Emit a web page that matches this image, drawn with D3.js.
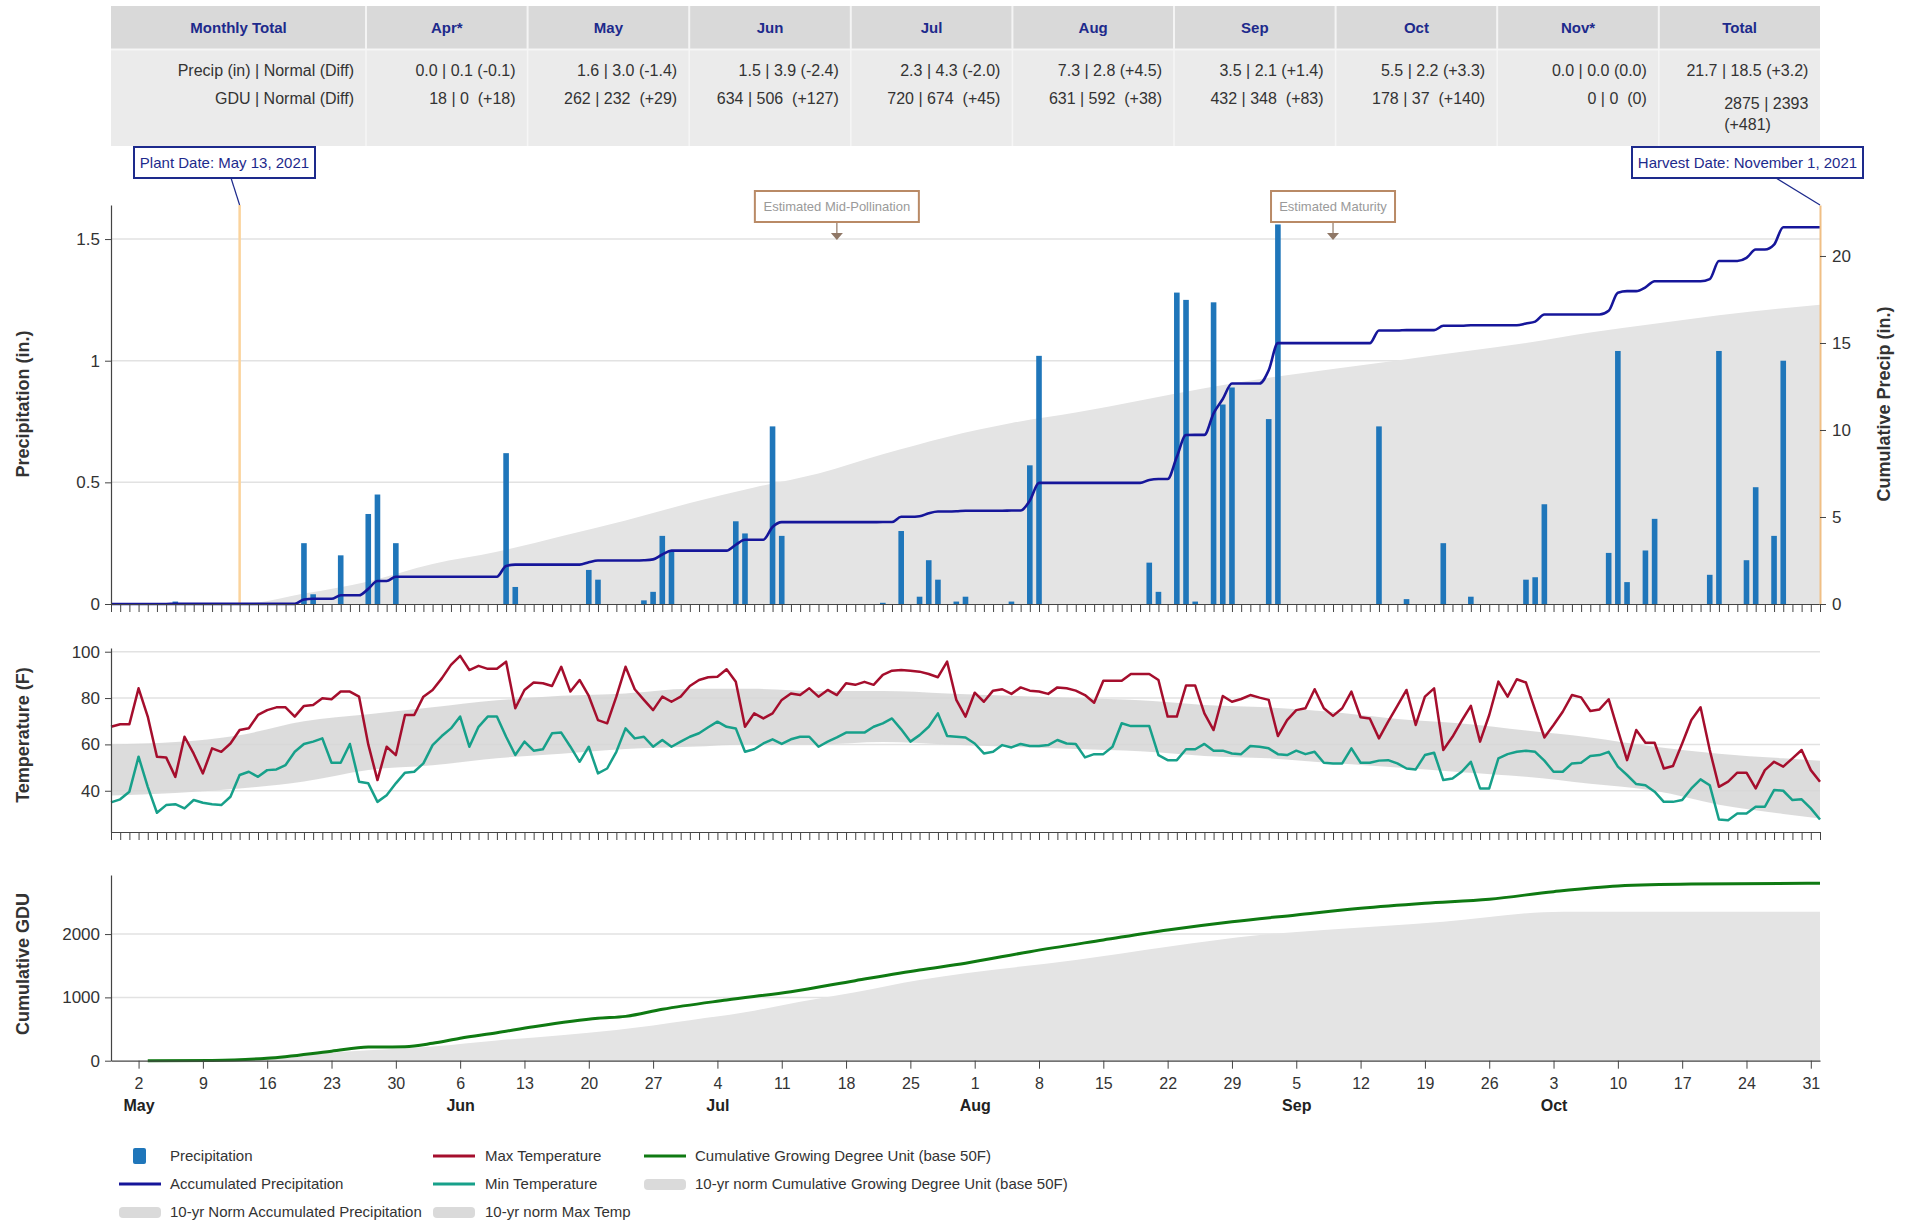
<!DOCTYPE html>
<html>
<head>
<meta charset="utf-8">
<script src="https://cdn.jsdelivr.net/npm/d3@7"></script>
<style>
body { margin: 0; background: #fff; }
svg { display: block; font-family: "Liberation Sans", Arial, sans-serif; }
</style>
</head>
<body>
<div id="chart"></div>
<script>
// table
var tableCols = ["Monthly Total", "Apr*", "May", "Jun", "Jul", "Aug", "Sep", "Oct", "Nov*", "Total"];
var precipRow = ["Precip (in) | Normal (Diff)", "0.0 | 0.1 (-0.1)", "1.6 | 3.0 (-1.4)", "1.5 | 3.9 (-2.4)", "2.3 | 4.3 (-2.0)",
  "7.3 | 2.8 (+4.5)", "3.5 | 2.1 (+1.4)", "5.5 | 2.2 (+3.3)", "0.0 | 0.0 (0.0)", "21.7 | 18.5 (+3.2)"];
var gduRow = ["GDU | Normal (Diff)", "18 | 0  (+18)", "262 | 232  (+29)", "634 | 506  (+127)", "720 | 674  (+45)",
  "631 | 592  (+38)", "432 | 348  (+83)", "178 | 37  (+140)", "0 | 0  (0)", "2875 | 2393  (+481)"];

// daily rain (only days with rain)
var rainDates = ["2021-05-06", "2021-05-20", "2021-05-21", "2021-05-24", "2021-05-27", "2021-05-28", "2021-05-30",
  "2021-06-11", "2021-06-12", "2021-06-20", "2021-06-21", "2021-06-26", "2021-06-27", "2021-06-28", "2021-06-29",
  "2021-07-06", "2021-07-07", "2021-07-10", "2021-07-11", "2021-07-22", "2021-07-24", "2021-07-26", "2021-07-27",
  "2021-07-28", "2021-07-30", "2021-07-31",
  "2021-08-05", "2021-08-07", "2021-08-08", "2021-08-20", "2021-08-21", "2021-08-23", "2021-08-24", "2021-08-25",
  "2021-08-27", "2021-08-28", "2021-08-29",
  "2021-09-02", "2021-09-03", "2021-09-14", "2021-09-17", "2021-09-21", "2021-09-24", "2021-09-30",
  "2021-10-01", "2021-10-02", "2021-10-09", "2021-10-10", "2021-10-11", "2021-10-13", "2021-10-14", "2021-10-20",
  "2021-10-21", "2021-10-24", "2021-10-25", "2021-10-27", "2021-10-28"];
var rainInches = [0.01, 0.25, 0.04, 0.2, 0.37, 0.45, 0.25,
  0.62, 0.07, 0.14, 0.1, 0.015, 0.05, 0.28, 0.22,
  0.34, 0.29, 0.73, 0.28, 0.005, 0.3, 0.03, 0.18,
  0.1, 0.01, 0.03,
  0.01, 0.57, 1.02, 0.17, 0.05, 1.28, 1.25, 0.01,
  1.24, 0.82, 0.89,
  0.76, 1.56, 0.73, 0.02, 0.25, 0.03, 0.1,
  0.11, 0.41, 0.21, 1.04, 0.09, 0.22, 0.35, 0.12,
  1.04, 0.18, 0.48, 0.28, 1.0];

var normPrecipDates = ["2021-04-29", "2021-05-13", "2021-05-20", "2021-05-27", "2021-06-03", "2021-06-10", "2021-06-17",
  "2021-06-24", "2021-07-01", "2021-07-08", "2021-07-15", "2021-07-22", "2021-07-29", "2021-08-05", "2021-08-12",
  "2021-08-19", "2021-08-26", "2021-09-02", "2021-09-09", "2021-09-16", "2021-09-23", "2021-09-30", "2021-10-07",
  "2021-10-14", "2021-10-21", "2021-10-28", "2021-11-01"];
var normPrecipCum = [0, 0, 0.6, 1.3, 2.3, 3.0, 3.9, 4.8, 5.8, 6.7, 7.5, 8.6, 9.6, 10.4, 11.0,
  11.7, 12.4, 13.0, 13.5, 14.0, 14.5, 15.0, 15.6, 16.1, 16.6, 17.0, 17.2];

// daily temps, Apr 29 .. Nov 1
var maxTemp = [67.6, 68.7, 68.7,
  84.2, 72, 54.7, 54.4, 46, 63.3, 56, 47.5, 58.3, 56.8, 60.4, 66.2, 67, 72.7, 74.8, 76, 76, 72, 76.6, 77, 79.9, 79.5,
  82.8, 82.8, 80.6, 60, 44.6, 59, 55.4, 72.7,
  72.7, 80.6, 83.5, 88.5, 94.3, 98.2, 92.1, 93.9, 92.6, 92.6, 95.7, 75.6, 83.5, 86.7, 86.4, 85.2, 93.5, 82.8, 87.8,
  80.9, 70.5, 69.1, 80.6, 93.5, 83.8, 79.2, 74.8, 80.6, 78.4, 80.6,
  85.2, 87.8, 89, 89.2, 92.4, 87, 67.6, 73.4, 71.2, 73.4, 79.2, 82, 81.3, 84.2, 80.6, 83.5, 81.3, 86.4, 85.7, 87,
  85.7, 90, 91.8, 92.1, 91.8, 91.4, 90.4, 89, 95.7, 79.2, 72,
  82.3, 78.4, 83.2, 83.8, 81.8, 84.6, 83.2, 82.8, 81.8, 84.6, 84.2, 83.2, 81.3, 78, 87.5, 87.5, 87.5, 90.4, 90.4,
  90.4, 87.8, 72, 72, 85.4, 85.4, 73.4, 66.2, 80.9, 78.4, 79.6, 81.3,
  80.2, 79.2, 63.6, 70.5, 74.8, 75.6, 83.8, 75.6, 72.3, 75.6, 82.8, 71.7, 71.2, 62.6, 69.8, 76.6, 83.5, 68.4, 80.6,
  84.2, 57.6, 63.3, 70.2, 76.6, 61.2, 72.7, 87.1, 80.6, 88.1, 86.7,
  74.8, 63, 68.4, 74.1, 81.3, 80.3, 74.4, 75.1, 79.5, 66.2, 53.2, 66.2, 60.7, 60.7, 49.6, 50.7, 60.4, 70.5, 76,
  57.6, 41.7, 43.9, 47.8, 47.8, 41, 48.9, 52.5, 50.4, 54, 57.6, 48.9,
  43.9];
var minTemp = [35, 36.3, 39.6,
  54.7, 41.7, 30.5, 33.8, 34.2, 32.4, 36, 34.8, 34.2, 33.8, 37.4, 46.8, 48.2, 46, 48.9, 49.2, 51.1, 56.8, 60.2, 61.2,
  62.6, 52.1, 52.1, 60.2, 43.9, 43.2, 35.2, 38.1, 43.2, 47.8,
  48.2, 51.8, 59.7, 63.6, 66.9, 72, 59, 67.6, 72, 72, 63.3, 55.4, 61.2, 57.3, 57.9, 64.8, 65.1, 59, 52.5, 59, 47.5,
  49.6, 56.8, 66.9, 62.6, 63.3, 59, 61.9, 59, 61.2,
  63.3, 64.8, 67.4, 69.8, 67.6, 66.9, 56.8, 57.9, 60.4, 62.2, 60.2, 62.2, 63.3, 63.3, 59, 61.2, 63, 65.1, 65.1,
  65.1, 67.6, 69.1, 71.2, 66.5, 61.2, 64, 67.6, 73.4, 63.6, 63.3, 63,
  60.4, 56.1, 56.8, 59.7, 58.7, 60.2, 59.3, 59.3, 59.7, 61.9, 60.4, 60.2, 54.4, 55.8, 55.8, 59, 69.1, 67.9, 67.9,
  67.9, 55.4, 53.2, 53.2, 57.9, 57.9, 60.2, 57.3, 57.3, 56.1, 55.8, 59.3,
  59, 58.3, 55.8, 55.4, 57.3, 55.8, 56.8, 52.1, 51.8, 51.8, 58.3, 52.1, 52.1, 53, 53.2, 51.8, 49.6, 49.2, 55.4,
  56.4, 44.6, 45.3, 48.2, 52.5, 41, 41, 54, 55.8, 56.8, 57.3,
  56.8, 53, 48.2, 48.2, 51.8, 52.1, 55, 55.4, 56.8, 50.4, 46.8, 42.9, 42.4, 39.6, 35.2, 35.2, 36, 41, 44.9, 42.4,
  27.6, 27.3, 30.2, 30.2, 33.1, 33.1, 40.3, 40, 36, 36.3, 32.4,
  27.6];

var normTempDates = ["2021-04-29", "2021-05-06", "2021-05-13", "2021-05-20", "2021-05-27", "2021-06-03", "2021-06-10",
  "2021-06-17", "2021-06-24", "2021-07-01", "2021-07-08", "2021-07-15", "2021-07-22", "2021-07-29", "2021-08-05",
  "2021-08-12", "2021-08-19", "2021-08-26", "2021-09-02", "2021-09-09", "2021-09-16", "2021-09-23", "2021-09-30",
  "2021-10-07", "2021-10-14", "2021-10-21", "2021-10-28", "2021-11-01"];
var normTempLow = [38, 39, 41, 44, 49, 51, 54, 56, 58, 59, 60, 60, 61, 60, 59, 58, 57, 55, 54, 52, 50, 48, 46, 43, 40, 34, 30, 28];
var normTempHigh = [60, 61, 64, 70, 73, 76, 79, 81, 82, 84, 84, 83, 83, 82, 81, 80, 79, 77, 76, 74, 71, 69, 66, 63, 59, 56, 54, 53];

var gduDates = ["2021-05-03", "2021-05-10", "2021-05-16", "2021-05-23", "2021-05-27", "2021-05-31", "2021-06-03",
  "2021-06-06", "2021-06-10", "2021-06-14", "2021-06-21", "2021-06-24", "2021-06-28", "2021-07-05", "2021-07-12",
  "2021-07-19", "2021-07-26", "2021-07-31", "2021-08-07", "2021-08-15", "2021-08-22", "2021-08-29", "2021-09-05",
  "2021-09-12", "2021-09-19", "2021-09-26", "2021-10-03", "2021-10-10", "2021-10-18", "2021-11-01"];
var gduCum = [0, 5, 38, 150, 215, 221, 275, 354, 442, 537, 670, 700, 812, 959, 1090, 1264, 1433, 1540, 1722, 1907,
  2065, 2196, 2302, 2407, 2486, 2550, 2670, 2760, 2791, 2802];
var normGduDates = ["2021-05-03", "2021-05-13", "2021-05-20", "2021-05-27", "2021-06-03", "2021-06-10", "2021-06-17",
  "2021-06-23", "2021-07-01", "2021-07-08", "2021-07-13", "2021-07-19", "2021-07-26", "2021-07-31", "2021-08-12",
  "2021-08-22", "2021-09-01", "2021-09-08", "2021-09-21", "2021-10-04", "2021-11-01"];
var normGduCum = [0, 40, 100, 165, 225, 320, 400, 485, 640, 790, 932, 1080, 1275, 1380, 1591, 1801, 1986, 2065, 2196, 2354, 2354];

var precipTicks = [0, 0.5, 1, 1.5];
var cumTicks = [0, 5, 10, 15, 20];
var tempTicks = [40, 60, 80, 100];
var gduTicks = [0, 1000, 2000];

var plantDate = "2021-05-13", harvestDate = "2021-11-01";
var pollinationDate = "2021-07-17", maturityDate = "2021-09-09";

var legendLabels = [
  ["Precipitation", "Accumulated Precipitation", "10-yr Norm Accumulated Precipitation"],
  ["Max Temperature", "Min Temperature", "10-yr norm Max Temp"],
  ["Cumulative Growing Degree Unit (base 50F)", "10-yr norm Cumulative Growing Degree Unit (base 50F)"]
];

var colors = {
  bar: "#1f76ba", cum: "#16169a", normal: "#e4e4e4", band: "#d6d6d6",
  max: "#a50e2d", min: "#17a08a", gdu: "#0f7a12", navy: "#1d2a8c",
  plant: "#fbd39c", note: "#b98a66", noteText: "#9a9a9a", axis: "#444", grid: "#e2e2e2"
};

var parse = d3.utcParse("%Y-%m-%d");
var startDay = parse("2021-04-29"), endDay = parse("2021-11-01");
var days = d3.utcDay.range(startDay, d3.utcDay.offset(endDay, 1));

var rainByDay = new Map(rainDates.map(function (d, i) { return [d, rainInches[i]]; }));
var fmtDay = d3.utcFormat("%Y-%m-%d");
var daily = days.map(function (d) { return { date: d, rain: rainByDay.get(fmtDay(d)) || 0 }; });
var cum = d3.cumsum(daily, function (d) { return d.rain; });
daily.forEach(function (d, i) { d.cum = cum[i]; d.max = maxTemp[i]; d.min = minTemp[i]; });

var svg = d3.select("#chart").append("svg")
  .attr("width", 1914)
  .attr("height", 1222);

var x = d3.scaleUtc().domain([startDay, endDay]).range([111, 1820]);
var plain = function (d) { return String(d); };

function styleAxis(g, size) {
  g.select(".domain").attr("stroke", colors.axis).attr("stroke-width", 1.2);
  g.selectAll(".tick line").attr("stroke", colors.axis);
  g.selectAll(".tick text").attr("font-size", size).attr("fill", "#333").attr("font-family", "Liberation Sans, Arial, sans-serif");
}

// ---- table ----
var colX = function (i) { return i === 0 ? 111 : 366 + (i - 1) * 161.6; };
var colR = function (i) { return i === 0 ? 366 : 366 + i * 161.6; };
svg.append("rect").attr("x", 111).attr("y", 6).attr("width", 1709).attr("height", 43).attr("fill", "#d9d9d9");
svg.append("rect").attr("x", 111).attr("y", 49).attr("width", 1709).attr("height", 97).attr("fill", "#ebebeb");
svg.append("line").attr("x1", 111).attr("x2", 1820).attr("y1", 49.5).attr("y2", 49.5).attr("stroke", "#f6f6f6").attr("stroke-width", 2);
tableCols.forEach(function (c, i) {
  if (i > 0) {
    svg.append("line").attr("x1", colX(i)).attr("x2", colX(i)).attr("y1", 6).attr("y2", 49)
      .attr("stroke", "#f4f4f4").attr("stroke-width", 2);
    svg.append("line").attr("x1", colX(i)).attr("x2", colX(i)).attr("y1", 49).attr("y2", 146)
      .attr("stroke", "#f6f6f6").attr("stroke-width", 1.5);
  }
  svg.append("text").attr("x", (colX(i) + colR(i)) / 2).attr("y", 33)
    .attr("text-anchor", "middle").attr("font-size", 15).attr("font-weight", "bold")
    .attr("fill", colors.navy).text(c);
});
[precipRow, gduRow].forEach(function (row, r) {
  row.forEach(function (txt, i) {
    var t = svg.append("text").attr("x", colR(i) - 12).attr("y", 76 + r * 28)
      .attr("text-anchor", "end").attr("font-size", 16).attr("fill", "#333")
      .style("white-space", "pre").text(txt);
    var w = t.node().getComputedTextLength();
    if (i > 0 && w > 130) {
      // too wide for the cell: wrap the difference onto a second line
      var cut = txt.lastIndexOf("(");
      t.text(txt.slice(0, cut).trim()).attr("y", 76 + r * 28 + 5);
      var w1 = t.node().getComputedTextLength();
      svg.append("text").attr("x", colR(i) - 12 - w1).attr("y", 76 + r * 28 + 26)
        .attr("font-size", 16).attr("fill", "#333").text(txt.slice(cut));
    }
  });
});

// ---- precipitation panel ----
var yP = d3.scaleLinear().domain([0, 1.64]).range([604, 205]);
var yC = d3.scaleLinear().domain([0, 22.93]).range([604, 205]);

svg.append("g").selectAll("line").data(precipTicks.filter(function (d) { return d > 0; })).enter().append("line")
  .attr("x1", 111).attr("x2", 1820).attr("y1", yP).attr("y2", yP)
  .attr("stroke", colors.grid).attr("stroke-width", 1.5);

var normPrecip = normPrecipDates.map(function (d, i) { return { date: parse(d), v: normPrecipCum[i] }; });
svg.append("path").datum(normPrecip)
  .attr("d", d3.area().x(function (d) { return x(d.date); }).y0(604).y1(function (d) { return yC(d.v); }).curve(d3.curveMonotoneX))
  .attr("fill", colors.normal);

svg.append("line").attr("x1", x(parse(plantDate))).attr("x2", x(parse(plantDate)))
  .attr("y1", 205).attr("y2", 604).attr("stroke", colors.plant).attr("stroke-width", 2.5);

svg.append("g").selectAll("rect").data(daily.filter(function (d) { return d.rain > 0; })).enter().append("rect")
  .attr("x", function (d) { return x(d.date) - 2.8; })
  .attr("width", 5.6)
  .attr("y", function (d) { return yP(d.rain); })
  .attr("height", function (d) { return 604 - yP(d.rain); })
  .attr("fill", colors.bar);

svg.append("path").datum(daily)
  .attr("d", d3.line().x(function (d) { return x(d.date); }).y(function (d) { return yC(d.cum); }).curve(d3.curveMonotoneX))
  .attr("fill", "none").attr("stroke", colors.cum).attr("stroke-width", 2.6);

svg.append("g").attr("transform", "translate(111,0)")
  .call(d3.axisLeft(yP).tickValues(precipTicks).tickSize(6).tickSizeOuter(0).tickPadding(5).tickFormat(plain))
  .call(styleAxis, 17);
svg.append("g").attr("transform", "translate(0,604)")
  .call(d3.axisBottom(x).ticks(d3.utcDay.every(1)).tickSize(8).tickSizeOuter(0).tickFormat(""))
  .call(styleAxis, 16);
svg.append("g").attr("transform", "translate(1820,0)")
  .call(d3.axisRight(yC).tickValues(cumTicks).tickSize(6).tickSizeOuter(0).tickPadding(6).tickFormat(plain))
  .call(styleAxis, 17)
  .select(".domain").attr("stroke", "#f0bf85").attr("stroke-width", 2);

// annotations
function dateBox(label, x0, x1, lx, tx) {
  svg.append("line").attr("x1", lx).attr("y1", 178).attr("x2", tx).attr("y2", 205)
    .attr("stroke", colors.navy).attr("stroke-width", 1.2);
  svg.append("rect").attr("x", x0).attr("y", 147).attr("width", x1 - x0).attr("height", 31)
    .attr("fill", "#fff").attr("stroke", colors.navy).attr("stroke-width", 2);
  svg.append("text").attr("x", (x0 + x1) / 2).attr("y", 168).attr("text-anchor", "middle")
    .attr("font-size", 15).attr("fill", colors.navy).text(label);
}
dateBox("Plant Date: May 13, 2021", 134, 315, 231, x(parse(plantDate)));
dateBox("Harvest Date: November 1, 2021", 1632, 1863, 1776, x(parse(harvestDate)));

function stageBox(label, d, halfW) {
  var cx = x(parse(d));
  svg.append("line").attr("x1", cx).attr("x2", cx).attr("y1", 222).attr("y2", 234)
    .attr("stroke", "#8f7766").attr("stroke-width", 1.2);
  svg.append("path").attr("d", "M" + (cx - 6) + ",233L" + (cx + 6) + ",233L" + cx + ",240Z").attr("fill", "#8f7766");
  svg.append("rect").attr("x", cx - halfW).attr("y", 191).attr("width", halfW * 2).attr("height", 31)
    .attr("fill", "#fff").attr("stroke", colors.note).attr("stroke-width", 2);
  svg.append("text").attr("x", cx).attr("y", 211).attr("text-anchor", "middle")
    .attr("font-size", 13).attr("fill", colors.noteText).text(label);
}
stageBox("Estimated Mid-Pollination", pollinationDate, 82);
stageBox("Estimated Maturity", maturityDate, 62);

// ---- temperature panel ----
var yT = d3.scaleLinear().domain([22.2, 101.6]).range([832, 648]);
svg.append("g").selectAll("line").data(tempTicks).enter().append("line")
  .attr("x1", 111).attr("x2", 1820).attr("y1", yT).attr("y2", yT)
  .attr("stroke", colors.grid).attr("stroke-width", 1.5);

var band = normTempDates.map(function (d, i) { return { date: parse(d), lo: normTempLow[i], hi: normTempHigh[i] }; });
svg.append("path").datum(band)
  .attr("d", d3.area().x(function (d) { return x(d.date); })
    .y0(function (d) { return yT(d.lo); }).y1(function (d) { return yT(d.hi); }).curve(d3.curveMonotoneX))
  .attr("fill", colors.band).attr("opacity", 0.85);

svg.append("path").datum(daily)
  .attr("d", d3.line().x(function (d) { return x(d.date); }).y(function (d) { return yT(d.max); }))
  .attr("fill", "none").attr("stroke", colors.max).attr("stroke-width", 2.5).attr("stroke-linejoin", "round");
svg.append("path").datum(daily)
  .attr("d", d3.line().x(function (d) { return x(d.date); }).y(function (d) { return yT(d.min); }))
  .attr("fill", "none").attr("stroke", colors.min).attr("stroke-width", 2.5).attr("stroke-linejoin", "round");

svg.append("g").attr("transform", "translate(111,0)")
  .call(d3.axisLeft(yT).tickValues(tempTicks).tickSize(6).tickSizeOuter(0).tickPadding(5).tickFormat(plain))
  .call(styleAxis, 17);
svg.append("g").attr("transform", "translate(0,832)")
  .call(d3.axisBottom(x).ticks(d3.utcDay.every(1)).tickSize(8).tickSizeOuter(0).tickFormat(""))
  .call(styleAxis, 16);

// ---- GDU panel ----
var yG = d3.scaleLinear().domain([0, 2933]).range([1060.7, 875]);
svg.append("g").selectAll("line").data(gduTicks.filter(function (d) { return d > 0; })).enter().append("line")
  .attr("x1", 111).attr("x2", 1820).attr("y1", yG).attr("y2", yG)
  .attr("stroke", colors.grid).attr("stroke-width", 1.5);

var normGdu = normGduDates.map(function (d, i) { return { date: parse(d), v: normGduCum[i] }; });
svg.append("path").datum(normGdu)
  .attr("d", d3.area().x(function (d) { return x(d.date); }).y0(yG(0)).y1(function (d) { return yG(d.v); }).curve(d3.curveMonotoneX))
  .attr("fill", colors.normal);
var gdu = gduDates.map(function (d, i) { return { date: parse(d), v: gduCum[i] }; });
svg.append("path").datum(gdu)
  .attr("d", d3.line().x(function (d) { return x(d.date); }).y(function (d) { return yG(d.v); }).curve(d3.curveMonotoneX))
  .attr("fill", "none").attr("stroke", colors.gdu).attr("stroke-width", 3);

svg.append("g").attr("transform", "translate(111,0)")
  .call(d3.axisLeft(yG).tickValues(gduTicks).tickSize(6).tickSizeOuter(0).tickPadding(5).tickFormat(plain))
  .call(styleAxis, 17);
var xAxis = svg.append("g").attr("transform", "translate(0,1060.7)")
  .call(d3.axisBottom(x).ticks(d3.utcSunday.every(1)).tickSize(8).tickSizeOuter(0).tickPadding(9).tickFormat(d3.utcFormat("%-d")))
  .call(styleAxis, 16);
xAxis.selectAll(".tick").filter(function (d) { return d.getUTCDate() <= 7; })
  .append("text").attr("y", 50).attr("fill", "#222").attr("font-size", 16).attr("font-weight", "bold")
  .attr("font-family", "Liberation Sans, Arial, sans-serif")
  .text(d3.utcFormat("%b"));

// axis titles
function yTitle(label, tx, ty) {
  svg.append("text").attr("transform", "translate(" + tx + "," + ty + ") rotate(-90)")
    .attr("text-anchor", "middle").attr("font-size", 18).attr("font-weight", "bold").attr("fill", "#333")
    .text(label);
}
yTitle("Precipitation (in.)", 29, 404);
yTitle("Temperature (F)", 29, 735);
yTitle("Cumulative GDU", 29, 964);
yTitle("Cumulative Precip (in.)", 1890, 404);

// ---- legend ----
var legendCols = [{ sx: 119, tx: 170 }, { sx: 433, tx: 485 }, { sx: 644, tx: 695 }];
var legendSymbols = [["bar", colors.cum, colors.normal], [colors.max, colors.min, colors.band], [colors.gdu, colors.normal]];
legendLabels.forEach(function (col, c) {
  col.forEach(function (label, r) {
    var cy = 1156 + r * 28, sym = legendSymbols[c][r], lc = legendCols[c];
    if (sym === "bar") {
      svg.append("rect").attr("x", lc.sx + 14).attr("y", cy - 8).attr("width", 13).attr("height", 16).attr("rx", 2)
        .attr("fill", colors.bar);
    } else if (sym === colors.normal || sym === colors.band) {
      svg.append("rect").attr("x", lc.sx).attr("y", cy - 5).attr("width", 42).attr("height", 11).attr("rx", 4)
        .attr("fill", "#dadada");
    } else {
      svg.append("line").attr("x1", lc.sx).attr("x2", lc.sx + 42).attr("y1", cy).attr("y2", cy)
        .attr("stroke", sym).attr("stroke-width", 3);
    }
    svg.append("text").attr("x", lc.tx).attr("y", cy + 5).attr("font-size", 15).attr("fill", "#333").text(label);
  });
});
</script>
</body>
</html>
